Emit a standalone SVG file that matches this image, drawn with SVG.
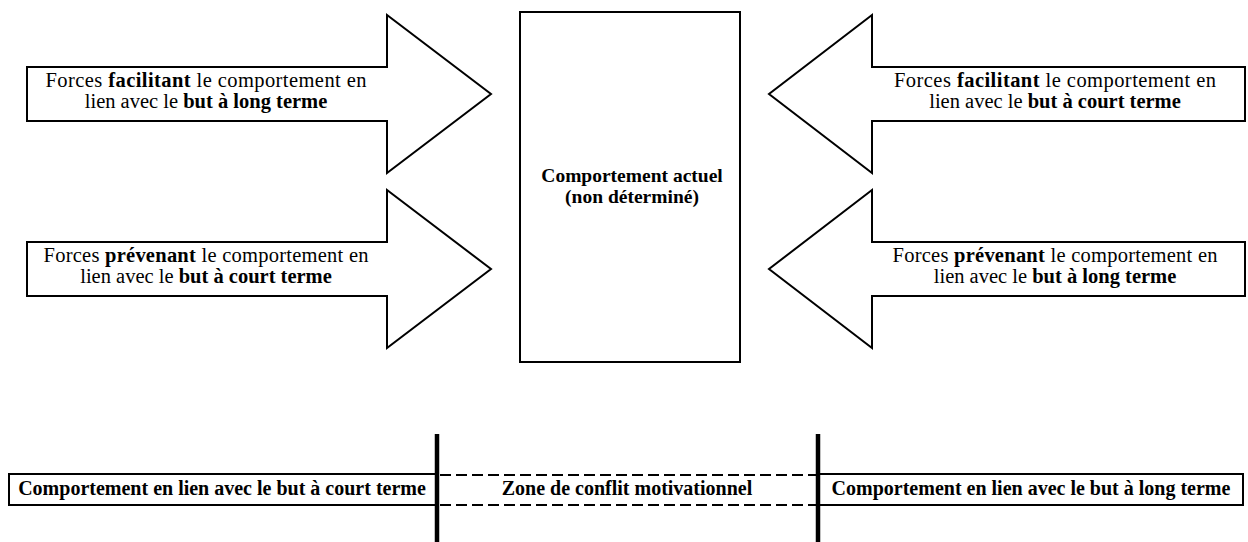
<svg xmlns="http://www.w3.org/2000/svg" width="1248" height="542" viewBox="0 0 1248 542">
<style>
.shape{fill:#fff;stroke:#000;stroke-width:2;stroke-linejoin:miter}
text{font-family:'Liberation Serif','Times New Roman',serif;font-size:20.5px;fill:#000;text-anchor:middle}
.b{font-weight:bold}
.lbl{font-size:20px}
.ctr{font-size:19.5px}
.dash{stroke:#000;stroke-width:2;stroke-dasharray:11,5;fill:none}
.bar{stroke:#000;stroke-width:4.5}
</style>
<rect width="1248" height="542" fill="#fff"/>
<g id="arrow-left-top">
<polygon class="shape" points="27,67 387,67 387,15 491,94 387,173 387,121 27,121"/>
<text x="206" y="87" textLength="321" lengthAdjust="spacing">Forces <tspan class="b">facilitant</tspan> le comportement en</text>
<text x="206" y="108">lien avec le <tspan class="b">but à long terme</tspan></text>
</g>
<g id="arrow-left-bottom">
<polygon class="shape" points="27,242 387,242 387,190 491,269 387,348 387,296 27,296"/>
<text x="206" y="262" textLength="325" lengthAdjust="spacing">Forces <tspan class="b">prévenant</tspan> le comportement en</text>
<text x="206" y="283">lien avec le <tspan class="b">but à court terme</tspan></text>
</g>
<g id="arrow-right-top">
<polygon class="shape" points="1245,67 872,67 872,15 769,94 872,173 872,121 1245,121"/>
<text x="1055" y="87" textLength="322" lengthAdjust="spacing">Forces <tspan class="b">facilitant</tspan> le comportement en</text>
<text x="1055" y="108">lien avec le <tspan class="b">but à court terme</tspan></text>
</g>
<g id="arrow-right-bottom">
<polygon class="shape" points="1245,242 872,242 872,190 769,269 872,348 872,296 1245,296"/>
<text x="1055" y="262" textLength="325" lengthAdjust="spacing">Forces <tspan class="b">prévenant</tspan> le comportement en</text>
<text x="1055" y="283">lien avec le <tspan class="b">but à long terme</tspan></text>
</g>
<g id="current-behaviour">
<rect class="shape" x="520" y="12" width="220" height="350"/>
<text class="b ctr" x="632" y="182">Comportement actuel</text>
<text class="b ctr" x="632" y="203">(non déterminé)</text>
</g>
<g id="short-term-zone">
<rect class="shape" x="9" y="474" width="428" height="31"/>
<text class="b lbl" x="222" y="495">Comportement en lien avec le but à court terme</text>
</g>
<g id="conflict-zone">
<line class="dash" x1="440" y1="475" x2="816" y2="475"/>
<line class="dash" x1="440" y1="505" x2="816" y2="505"/>
<text class="b lbl" x="627" y="495">Zone de conflit motivationnel</text>
</g>
<g id="long-term-zone">
<rect class="shape" x="818" y="474" width="425" height="31"/>
<text class="b lbl" x="1031" y="495">Comportement en lien avec le but à long terme</text>
</g>
<g id="connectors">
<line class="bar" x1="437" y1="434" x2="437" y2="542"/>
<line class="bar" x1="818" y1="434" x2="818" y2="542"/>
</g>
</svg>
